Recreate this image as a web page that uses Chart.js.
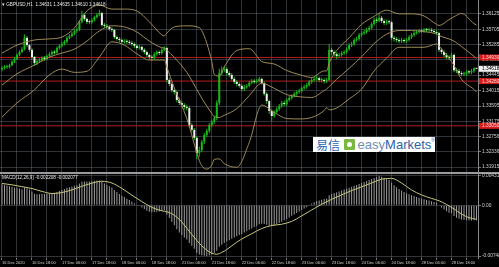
<!DOCTYPE html>
<html><head><meta charset="utf-8">
<script src="https://cdn.jsdelivr.net/npm/chart.js@4.4.1/dist/chart.umd.min.js"></script>
<style>
html,body{margin:0;padding:0;background:#000;}
#wrap{position:relative;width:499px;height:267px;overflow:hidden;background:#000;}
canvas{position:absolute;left:0;}
#sep{position:absolute;left:0;top:172px;width:499px;height:2px;background:#9a9a9a;}
#logo{position:absolute;left:313px;top:137px;width:122px;height:15px;background:#fff;display:flex;align-items:center;font-family:'Liberation Sans',Arial,sans-serif;white-space:nowrap;overflow:hidden;}
</style></head>
<body><div id="wrap">
<canvas id="main" width="499" height="176" style="top:0"></canvas>
<div id="sep"></div>
<canvas id="macd" width="499" height="97" style="top:170px"></canvas>
<div id="logo"><span style="font-family:'Noto Sans CJK SC';font-size:12px;line-height:15px;color:#2b67ae;margin-left:3px">易信</span><span style="width:11px;height:11px;background:#7bb842;margin-left:4px;display:inline-block;position:relative;border-radius:1px"><span style="position:absolute;left:3px;top:3px;width:5px;height:5px;border-radius:50%;background:#fff"></span></span><span style="font-size:13px;line-height:15px;color:#6d8fb5;margin-left:3px">easy</span><span style="font-size:13px;line-height:15px;color:#2b63a8">Markets</span><span style="font-size:5px;color:#2b63a8;align-self:flex-start">®</span></div>
</div>
<script>
const timeLabels = ["16 Dec 2020","16 Dec 18:00","17 Dec 06:00","17 Dec 18:00","18 Dec 06:00","18 Dec 18:00","21 Dec 06:00","21 Dec 18:00","22 Dec 06:00","22 Dec 18:00","23 Dec 06:00","23 Dec 18:00","24 Dec 06:00","24 Dec 18:00","28 Dec 06:00","28 Dec 18:00"];
const priceTicks = [1.36125,1.35705,1.35285,1.34865,1.34445,1.34015,1.33595,1.33175,1.32756,1.32336,1.31915];
const macdTicks = [0.004310, 0, -0.007487];
const redLevels = [1.34930, 1.34280, 1.33050];
const currentPrice = 1.34618;
const mainTitle = "\u25BE GBPUSD,H1  1.34631 1.34635 1.34610 1.34618";
const macdTitle = "MACD(12,26,9) -0.002208 -0.002077";

const open = [
1.3460,1.3464,1.3467,1.3467,1.3472,1.3481,1.3489,1.3500,1.3508,1.3516,
1.3547,1.3527,1.3514,1.3494,1.3478,1.3483,1.3486,1.3492,1.3489,1.3497,
1.3502,1.3508,1.3506,1.3519,1.3525,1.3530,1.3536,1.3547,1.3552,1.3558,
1.3566,1.3569,1.3591,1.3610,1.3599,1.3591,1.3590,1.3596,1.3604,1.3610,
1.3615,1.3582,1.3580,1.3577,1.3571,1.3569,1.3549,1.3544,1.3541,1.3536,
1.3538,1.3536,1.3533,1.3530,1.3525,1.3519,1.3522,1.3514,1.3508,1.3500,
1.3494,1.3492,1.3502,1.3508,1.3505,1.3514,1.3519,1.3431,1.3420,1.3403,
1.3398,1.3376,1.3368,1.3362,1.3357,1.3354,1.3307,1.3294,1.3272,1.3230,
1.3238,1.3261,1.3280,1.3291,1.3307,1.3316,1.3326,1.3368,1.3450,1.3458,
1.3461,1.3450,1.3445,1.3434,1.3426,1.3420,1.3415,1.3406,1.3412,1.3415,
1.3423,1.3428,1.3426,1.3428,1.3434,1.3423,1.3393,1.3373,1.3346,1.3332,
1.3343,1.3351,1.3360,1.3368,1.3365,1.3376,1.3382,1.3387,1.3393,1.3398,
1.3401,1.3409,1.3412,1.3417,1.3426,1.3431,1.3434,1.3436,1.3431,1.3431,
1.3428,1.3431,1.3514,1.3508,1.3502,1.3497,1.3500,1.3505,1.3508,1.3516,
1.3527,1.3530,1.3541,1.3544,1.3555,1.3560,1.3563,1.3569,1.3574,1.3585,
1.3596,1.3594,1.3602,1.3593,1.3588,1.3591,1.3590,1.3547,1.3544,1.3541,
1.3538,1.3541,1.3538,1.3541,1.3549,1.3555,1.3560,1.3563,1.3566,1.3565,
1.3569,1.3568,1.3569,1.3566,1.3563,1.3560,1.3514,1.3508,1.3500,1.3494,
1.3492,1.3500,1.3458,1.3456,1.3450,1.3447,1.3448,1.3453,1.3452,1.3456,
1.3463];
const high = [
1.3469,1.3472,1.3473,1.3476,1.3485,1.3494,1.3504,1.3513,1.3522,1.3556,
1.3552,1.3531,1.3518,1.3497,1.3488,1.3491,1.3496,1.3497,1.3501,1.3507,
1.3512,1.3513,1.3523,1.3530,1.3536,1.3541,1.3551,1.3557,1.3563,1.3571,
1.3575,1.3596,1.3621,1.3614,1.3603,1.3597,1.3600,1.3608,1.3615,1.3624,
1.3619,1.3588,1.3585,1.3581,1.3576,1.3572,1.3554,1.3549,1.3546,1.3543,
1.3543,1.3541,1.3538,1.3534,1.3529,1.3527,1.3526,1.3518,1.3512,1.3504,
1.3499,1.3507,1.3513,1.3512,1.3518,1.3524,1.3522,1.3437,1.3425,1.3410,
1.3402,1.3383,1.3374,1.3367,1.3363,1.3360,1.3313,1.3299,1.3277,1.3248,
1.3266,1.3286,1.3297,1.3313,1.3322,1.3333,1.3375,1.3462,1.3468,1.3470,
1.3466,1.3455,1.3450,1.3439,1.3431,1.3425,1.3419,1.3417,1.3420,1.3428,
1.3434,1.3433,1.3434,1.3440,1.3438,1.3427,1.3397,1.3377,1.3350,1.3348,
1.3356,1.3365,1.3373,1.3374,1.3380,1.3387,1.3392,1.3398,1.3403,1.3407,
1.3414,1.3418,1.3422,1.3431,1.3437,1.3440,1.3442,1.3440,1.3437,1.3436,
1.3437,1.3530,1.3520,1.3513,1.3507,1.3506,1.3510,1.3513,1.3521,1.3532,
1.3536,1.3546,1.3550,1.3560,1.3566,1.3569,1.3575,1.3580,1.3590,1.3602,
1.3603,1.3615,1.3607,1.3598,1.3597,1.3597,1.3594,1.3553,1.3549,1.3546,
1.3547,1.3546,1.3547,1.3554,1.3560,1.3565,1.3568,1.3571,1.3571,1.3574,
1.3574,1.3575,1.3574,1.3571,1.3568,1.3564,1.3519,1.3513,1.3505,1.3499,
1.3506,1.3504,1.3463,1.3461,1.3455,1.3454,1.3458,1.3458,1.3461,1.3466,
1.3464];
const low = [
1.3455,1.3460,1.3462,1.3463,1.3469,1.3477,1.3486,1.3496,1.3505,1.3512,
1.3522,1.3508,1.3488,1.3470,1.3472,1.3478,1.3482,1.3484,1.3485,1.3493,
1.3498,1.3501,1.3503,1.3515,1.3521,1.3526,1.3532,1.3543,1.3548,1.3554,
1.3561,1.3565,1.3587,1.3594,1.3585,1.3584,1.3586,1.3592,1.3600,1.3606,
1.3578,1.3574,1.3571,1.3566,1.3563,1.3544,1.3539,1.3535,1.3531,1.3531,
1.3530,1.3528,1.3525,1.3519,1.3514,1.3514,1.3509,1.3502,1.3494,1.3489,
1.3485,1.3488,1.3498,1.3500,1.3501,1.3510,1.3425,1.3414,1.3397,1.3391,
1.3370,1.3362,1.3356,1.3350,1.3347,1.3300,1.3287,1.3265,1.3213,1.3220,
1.3232,1.3255,1.3274,1.3286,1.3301,1.3311,1.3320,1.3362,1.3444,1.3452,
1.3444,1.3439,1.3429,1.3420,1.3414,1.3410,1.3400,1.3401,1.3407,1.3411,
1.3419,1.3421,1.3422,1.3424,1.3418,1.3388,1.3366,1.3338,1.3318,1.3327,
1.3338,1.3346,1.3355,1.3359,1.3360,1.3371,1.3377,1.3383,1.3388,1.3393,
1.3396,1.3404,1.3407,1.3413,1.3421,1.3426,1.3429,1.3425,1.3425,1.3422,
1.3423,1.3428,1.3500,1.3495,1.3489,1.3492,1.3495,1.3500,1.3503,1.3512,
1.3522,1.3525,1.3536,1.3539,1.3550,1.3555,1.3558,1.3564,1.3569,1.3580,
1.3588,1.3590,1.3588,1.3582,1.3583,1.3584,1.3540,1.3537,1.3535,1.3532,
1.3533,1.3533,1.3533,1.3537,1.3544,1.3550,1.3556,1.3559,1.3560,1.3561,
1.3563,1.3563,1.3561,1.3558,1.3555,1.3508,1.3502,1.3494,1.3488,1.3486,
1.3488,1.3452,1.3450,1.3444,1.3441,1.3442,1.3443,1.3447,1.3447,1.3451,
1.3461];
const close = [
1.3464,1.3467,1.3467,1.3472,1.3481,1.3489,1.3500,1.3508,1.3516,1.3547,
1.3527,1.3514,1.3494,1.3478,1.3483,1.3486,1.3492,1.3489,1.3497,1.3502,
1.3508,1.3506,1.3519,1.3525,1.3530,1.3536,1.3547,1.3552,1.3558,1.3566,
1.3569,1.3591,1.3610,1.3599,1.3591,1.3590,1.3596,1.3604,1.3610,1.3615,
1.3582,1.3580,1.3577,1.3571,1.3569,1.3549,1.3544,1.3541,1.3536,1.3538,
1.3536,1.3533,1.3530,1.3525,1.3519,1.3522,1.3514,1.3508,1.3500,1.3494,
1.3492,1.3502,1.3508,1.3505,1.3514,1.3519,1.3431,1.3420,1.3403,1.3398,
1.3376,1.3368,1.3362,1.3357,1.3354,1.3307,1.3294,1.3272,1.3230,1.3238,
1.3261,1.3280,1.3291,1.3307,1.3316,1.3326,1.3368,1.3450,1.3458,1.3461,
1.3450,1.3445,1.3434,1.3426,1.3420,1.3415,1.3406,1.3412,1.3415,1.3423,
1.3428,1.3426,1.3428,1.3434,1.3423,1.3393,1.3373,1.3346,1.3332,1.3343,
1.3351,1.3360,1.3368,1.3365,1.3376,1.3382,1.3387,1.3393,1.3398,1.3401,
1.3409,1.3412,1.3417,1.3426,1.3431,1.3434,1.3436,1.3431,1.3431,1.3428,
1.3431,1.3514,1.3508,1.3502,1.3497,1.3500,1.3505,1.3508,1.3516,1.3527,
1.3530,1.3541,1.3544,1.3555,1.3560,1.3563,1.3569,1.3574,1.3585,1.3596,
1.3594,1.3602,1.3593,1.3588,1.3591,1.3590,1.3547,1.3544,1.3541,1.3538,
1.3541,1.3538,1.3541,1.3549,1.3555,1.3560,1.3563,1.3566,1.3565,1.3569,
1.3568,1.3569,1.3566,1.3563,1.3560,1.3514,1.3508,1.3500,1.3494,1.3492,
1.3500,1.3458,1.3456,1.3450,1.3447,1.3448,1.3453,1.3452,1.3456,1.3463,
1.3462];

const bandIdx = [0,6,13,19,24,29,34,39,44,49,54,59,64,65,66,69,74,79,80,82,84,85,87,89,94,99,104,109,114,119,124,129,130,131,134,139,144,149,154,159,164,169,174,175,179,181,184,189,190];
const bbUpper = [1.3505,1.3527,1.3541,1.3544,1.3549,1.3574,1.3621,1.3637,1.3626,1.3626,
1.3621,1.3591,1.3555,1.3552,1.3560,1.3577,1.3580,1.3575,1.3567,1.3532,
1.3482,1.3446,1.3442,1.3467,1.3512,1.3517,1.3482,1.3475,1.3457,1.3446,
1.3438,1.3456,1.3456,1.3478,1.3512,1.3547,1.3584,1.3606,1.3623,1.3613,
1.3613,1.3607,1.3584,1.3581,1.3597,1.3605,1.3614,1.3586,1.3582];
const bbMiddle = [1.3417,1.3448,1.3472,1.3494,1.3505,1.3516,1.3538,1.3566,1.3580,1.3577,
1.3563,1.3538,1.3520,1.3519,1.3513,1.3493,1.3452,1.3393,1.3381,1.3359,
1.3339,1.3330,1.3328,1.3334,1.3352,1.3388,1.3422,1.3408,1.3391,1.3385,
1.3383,1.3402,1.3406,1.3413,1.3433,1.3463,1.3495,1.3531,1.3557,1.3567,
1.3567,1.3564,1.3557,1.3553,1.3544,1.3538,1.3523,1.3496,1.3490];
const bbLower = [1.3329,1.3368,1.3404,1.3445,1.3461,1.3452,1.3455,1.3494,1.3536,1.3527,
1.3503,1.3486,1.3486,1.3486,1.3467,1.3409,1.3325,1.3210,1.3195,1.3186,
1.3197,1.3213,1.3214,1.3201,1.3191,1.3259,1.3362,1.3342,1.3325,1.3324,
1.3328,1.3347,1.3355,1.3349,1.3354,1.3379,1.3406,1.3456,1.3491,1.3521,
1.3521,1.3521,1.3530,1.3524,1.3491,1.3471,1.3433,1.3405,1.3398];

const macdMain = [
0.00310,0.00300,0.00290,0.00280,0.00270,0.00260,0.00255,0.00245,0.00235,0.00260,
0.00250,0.00230,0.00200,0.00170,0.00160,0.00160,0.00165,0.00165,0.00170,0.00175,
0.00180,0.00185,0.00195,0.00210,0.00225,0.00240,0.00255,0.00265,0.00275,0.00285,
0.00295,0.00320,0.00345,0.00350,0.00350,0.00348,0.00352,0.00358,0.00362,0.00365,
0.00340,0.00320,0.00300,0.00280,0.00260,0.00225,0.00195,0.00165,0.00140,0.00120,
0.00095,0.00075,0.00055,0.00030,0.00005,-0.00010,-0.00035,-0.00055,-0.00080,-0.00095,
-0.00105,-0.00100,-0.00095,-0.00092,-0.00085,-0.00075,-0.00140,-0.00190,-0.00245,-0.00295,
-0.00355,-0.00400,-0.00440,-0.00475,-0.00505,-0.00555,-0.00595,-0.00640,-0.00700,-0.00725,
-0.00735,-0.00742,-0.007487,-0.00740,-0.00725,-0.00700,-0.00670,-0.00610,-0.00580,-0.00555,
-0.00535,-0.00515,-0.00495,-0.00475,-0.00458,-0.00440,-0.00422,-0.00402,-0.00382,-0.00362,
-0.00342,-0.00322,-0.00302,-0.00282,-0.00272,-0.00278,-0.00288,-0.00300,-0.00305,-0.00295,
-0.00280,-0.00262,-0.00242,-0.00222,-0.00202,-0.00180,-0.00157,-0.00135,-0.00115,-0.00092,
-0.00070,-0.00050,-0.00030,-0.00005,0.00025,0.00045,0.00060,0.00070,0.00080,0.00090,
0.00100,0.00145,0.00165,0.00180,0.00190,0.00200,0.00215,0.00230,0.00242,0.00255,
0.00270,0.00285,0.00298,0.00312,0.00326,0.00340,0.00355,0.00370,0.00385,0.00400,
0.00415,0.00431,0.00420,0.00405,0.00390,0.00375,0.00330,0.00295,0.00265,0.00238,
0.00215,0.00195,0.00175,0.00160,0.00145,0.00135,0.00122,0.00110,0.00098,0.00088,
0.00078,0.00068,0.00058,0.00048,0.00038,0.00000,-0.00035,-0.00065,-0.00090,-0.00110,
-0.00120,-0.00160,-0.00185,-0.00200,-0.00210,-0.00218,-0.00222,-0.00224,-0.00224,-0.00222,
-0.002208];
const signalIdx = [0,4,8,12,16,20,24,28,32,36,40,44,48,52,56,60,64,66,68,70,72,74,76,78,80,82,84,86,88,90,92,94,96,100,104,108,112,116,120,124,128,132,136,140,144,148,152,156,160,164,168,172,175,178,181,184,187,190];
const signalVal = [0.00320,0.00300,0.00272,0.00245,0.00203,0.00172,0.00186,0.00226,0.00278,0.00324,
0.00352,0.00326,0.00247,0.00148,0.00053,-0.00032,-0.00082,-0.00096,-0.00125,-0.00175,
-0.00247,-0.00338,-0.00429,-0.00518,-0.00597,-0.00661,-0.00706,-0.00721,-0.00695,-0.00652,
-0.00598,-0.00544,-0.00497,-0.00420,-0.00343,-0.00299,-0.00280,-0.00238,-0.00157,-0.00070,
0.00014,0.00087,0.00152,0.00216,0.00270,0.00327,0.00383,0.00395,0.00326,0.00224,
0.00151,0.00100,0.00065,0.00011,-0.00055,-0.00131,-0.00183,-0.002077];

// ---- styling ----
const GRID = 'rgba(115,125,135,0.42)';
const GREEN = '#18b818';
const BEAR = '#f0f0f0';
const BAND = '#9d8b56';
const RED = '#b41c1c';
const HIST = '#9c9c9c';
const SIGNAL = '#c6c47c';
const AXIS_TXT = '#d4d4d4';
const FONT = "'Liberation Sans', Arial, sans-serif";
const X_MIN = -0.8, X_MAX = 190.6;
const PRICE_MIN = 1.3178, PRICE_MAX = 1.3651;
const MACD_PAD = 0.00028;
const gridIdx = timeLabels.flatMap((_, k) => [12 * k, 12 * k + 6]);

const fixY = s => { s.width = 21; s.paddingTop = 0; s.paddingBottom = 0; };

const mainTexts = {
  id: 'mainTexts',
  afterDraw(chart) {
    const c = chart.ctx, ys = chart.scales.y, x0 = chart.chartArea.right + 1;
    c.save();
    c.font = `4.8px ${FONT}`;
    c.textBaseline = 'middle';
    redLevels.forEach(v => {
      const py = ys.getPixelForValue(v);
      c.fillStyle = '#d81d1d';
      c.fillRect(x0, py - 3, 20, 6);
      c.fillStyle = '#ffd6d6';
      c.fillText(v.toFixed(5), x0 + 3, py + 0.3);
    });
    const pc = ys.getPixelForValue(currentPrice);
    c.fillStyle = '#f2f2f2';
    c.fillRect(x0, pc - 3, 20, 6);
    c.fillStyle = '#000';
    c.fillText(currentPrice.toFixed(5), x0 + 3, pc + 0.3);
    c.fillStyle = '#e6e6e6';
    c.font = `4.6px ${FONT}`;
    c.fillText(mainTitle, 2, 5);
    c.restore();
  }
};
const macdTexts = {
  id: 'macdTexts',
  afterDraw(chart) {
    const c = chart.ctx;
    c.save();
    c.font = `4.6px ${FONT}`;
    c.fillStyle = '#e6e6e6';
    c.textBaseline = 'middle';
    c.fillText(macdTitle, 2, chart.chartArea.top + 3.5);
    c.restore();
  }
};

new Chart(document.getElementById('main'), {
  type: 'bar',
  data: {
    datasets: [
      ...redLevels.map(v => ({
        type: 'line', data: [{x: X_MIN, y: v}, {x: X_MAX, y: v}],
        borderColor: RED, borderWidth: 1, pointRadius: 0, order: 6
      })),
      { type: 'bar', data: high.map((h, i) => ({x: i, y: [low[i], h]})),
        backgroundColor: GREEN, barThickness: 1, grouped: false, inflateAmount: 0, order: 5 },
      { type: 'bar', data: close.map((c, i) => ({x: i, y: [open[i], c]})),
        backgroundColor: close.map((c, i) => c >= open[i] ? GREEN : BEAR),
        barThickness: 2, minBarLength: 1, grouped: false, inflateAmount: 0, order: 4 },
      ...[bbUpper, bbMiddle, bbLower].map(arr => ({
        type: 'line', data: bandIdx.map((x, k) => ({x, y: arr[k]})),
        borderColor: BAND, borderWidth: 1, pointRadius: 0, cubicInterpolationMode: 'monotone', order: 1
      }))
    ]
  },
  options: {
    animation: false, responsive: false, devicePixelRatio: 1,
    layout: { padding: { left: 0, right: 0, top: 0, bottom: 4 } },
    plugins: { legend: { display: false }, tooltip: { enabled: false } },
    scales: {
      x: { type: 'linear', min: X_MIN, max: X_MAX, offset: false,
        afterBuildTicks: s => { s.ticks = gridIdx.map(v => ({value: v})); },
        ticks: { display: false },
        grid: { color: GRID, drawTicks: false, offset: false },
        border: { display: false },
        afterFit: s => { s.height = 0; s.paddingLeft = 0; s.paddingRight = 0; } },
      y: { position: 'right', min: PRICE_MIN, max: PRICE_MAX,
        afterBuildTicks: s => { s.ticks = priceTicks.map(v => ({value: v})); },
        ticks: { color: AXIS_TXT, font: { size: 4.8, family: FONT }, padding: 1,
          callback: v => v.toFixed(5) },
        grid: { color: GRID, tickLength: 3, tickColor: '#777' },
        border: { display: true, color: '#8a8a8a' },
        afterFit: fixY }
    }
  },
  plugins: [mainTexts]
});

new Chart(document.getElementById('macd'), {
  type: 'bar',
  data: {
    datasets: [
      { type: 'bar', data: macdMain.map((v, i) => ({x: i, y: v})),
        backgroundColor: HIST, barThickness: 1, grouped: false, inflateAmount: 0, order: 3 },
      { type: 'line', data: signalIdx.map((x, k) => ({x, y: signalVal[k]})),
        borderColor: SIGNAL, borderWidth: 1, pointRadius: 0, cubicInterpolationMode: 'monotone', order: 1 }
    ]
  },
  options: {
    animation: false, responsive: false, devicePixelRatio: 1,
    layout: { padding: { left: 0, right: 0, top: 4, bottom: 0 } },
    plugins: { legend: { display: false }, tooltip: { enabled: false } },
    scales: {
      x: { type: 'linear', min: X_MIN, max: X_MAX, offset: false,
        afterBuildTicks: s => { s.ticks = gridIdx.map(v => ({value: v})); },
        ticks: { color: AXIS_TXT, font: { size: 4, family: FONT }, padding: 0, align: 'start',
          maxRotation: 0, autoSkip: false,
          callback: v => (v % 12 === 0 ? timeLabels[v / 12] : '') },
        grid: { color: GRID, tickLength: 2, tickColor: '#777', offset: false },
        border: { display: false },
        afterFit: s => { s.height = 9; s.paddingLeft = 0; s.paddingRight = 0; } },
      y: { position: 'right', min: macdTicks[2] - MACD_PAD, max: macdTicks[0] + MACD_PAD,
        afterBuildTicks: s => { s.ticks = macdTicks.map(v => ({value: v})); },
        ticks: { color: AXIS_TXT, font: { size: 4.8, family: FONT }, padding: 1,
          callback: v => (v === 0 ? '0.00' : v.toFixed(6)) },
        grid: { color: GRID, tickLength: 3, tickColor: '#777' },
        border: { display: true, color: '#8a8a8a' },
        afterFit: fixY }
    }
  },
  plugins: [macdTexts]
});
</script>
</body></html>
